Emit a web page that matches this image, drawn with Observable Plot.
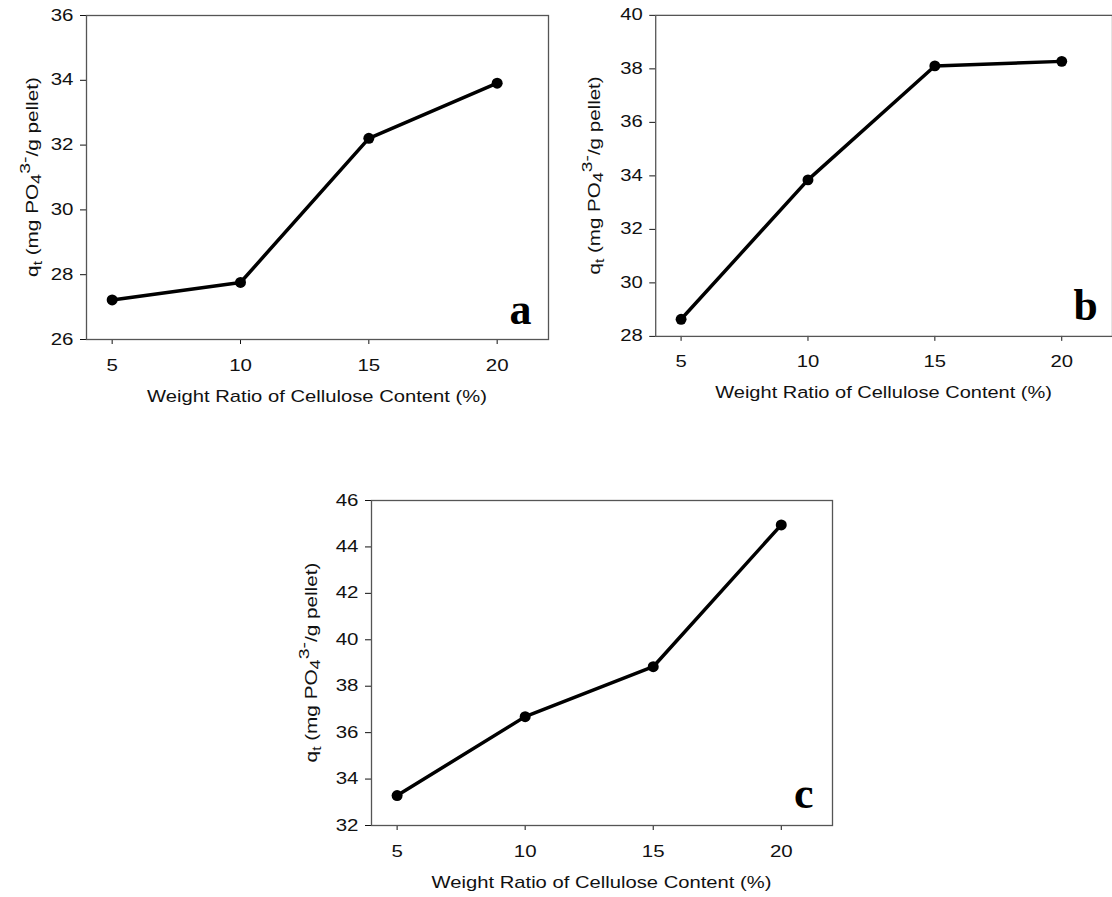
<!DOCTYPE html>
<html><head><meta charset="utf-8">
<script src="https://cdn.jsdelivr.net/npm/d3@7"></script>
<script src="https://cdn.jsdelivr.net/npm/@observablehq/plot@0.6"></script>
<style>
html,body{margin:0;padding:0;background:#fff;overflow:hidden;width:1112px;height:897px;}
.panel{position:absolute;}
</style></head><body>
<div id="pa" class="panel" style="left:0px;top:0px"></div>
<div id="pb" class="panel" style="left:570px;top:0px"></div>
<div id="pc" class="panel" style="left:285px;top:485px"></div>
<script>
// ---- data ----
const cellulose = [5, 10, 15, 20];
const qtA = [27.22, 27.76, 32.21, 33.91];
const qtB = [28.64, 33.85, 38.11, 38.28];
const qtC = [33.29, 36.69, 38.84, 44.95];
const xTicks = [5, 10, 15, 20];
const yTicksA = [26, 28, 30, 32, 34, 36];
const yTicksB = [28, 30, 32, 34, 36, 38, 40];
const yTicksC = [32, 34, 36, 38, 40, 42, 44, 46];
const panelLetters = ["a", "b", "c"];
const xTitle = "Weight Ratio of Cellulose Content (%)";

const SANS = "'Liberation Sans', Arial, sans-serif";

function stretch(el, s) {
  const x = parseFloat(el.getAttribute("x")) || 0;
  const t = el.getAttribute("transform") || "";
  el.setAttribute("transform", `${t} translate(${x},0) scale(${s},1) translate(${-x},0)`);
}

function makePanel(id, values, yTicks, letter, o) {
  const data = cellulose.map((x, i) => ({x, y: values[i]}));
  const fw = o.frameW, fh = o.frameH;
  const width = o.ml + fw + o.mr, height = o.mt + fh + o.mb;
  const svg = Plot.plot({
    width, height,
    marginLeft: o.ml, marginRight: o.mr, marginTop: o.mt, marginBottom: o.mb,
    style: {fontFamily: SANS, fontSize: "16px", background: "white", color: "#111", overflow: "visible"},
    x: {domain: [4, 22], ticks: xTicks, tickSize: 5, tickPadding: 15, label: null},
    y: {domain: [yTicks[0], yTicks[yTicks.length - 1]], ticks: yTicks, tickSize: 6, tickPadding: 7, label: null},
    marks: [
      Plot.frame({stroke: "#555", strokeWidth: 1.3}),
      Plot.line(data, {x: "x", y: "y", stroke: "black", strokeWidth: 3.5}),
      Plot.dot(data, {x: "x", y: "y", r: 5.5, fill: "black", stroke: "none"}),
      Plot.text([letter], {text: d => d, frameAnchor: "bottom-right", textAnchor: "end", lineAnchor: "bottom",
        dx: -o.letterDx, dy: -o.letterDy, fontSize: 44, fontWeight: "bold", fontFamily: "'Liberation Serif', 'Times New Roman', serif", fill: "black"})
    ]
  });
  document.getElementById(id).appendChild(svg);
  // stretch tick labels horizontally (reference text is wide)
  svg.querySelectorAll('g[aria-label="x-axis tick label"] text, g[aria-label="y-axis tick label"] text').forEach(t => stretch(t, 1.28));
  const NS = "http://www.w3.org/2000/svg";
  // x title
  const cx = o.ml + fw / 2, by = o.mt + fh + 63;
  const gx = document.createElementNS(NS, "g");
  gx.setAttribute("transform", `translate(${cx},${by})`);
  const tx = document.createElementNS(NS, "text");
  tx.setAttribute("text-anchor", "middle");
  tx.setAttribute("font-size", "16");
  tx.setAttribute("fill", "#111");
  tx.textContent = xTitle;
  gx.appendChild(tx);
  svg.appendChild(gx);
  const wx = tx.getBBox().width;
  gx.setAttribute("transform", `translate(${cx},${by}) scale(${340 / wx},1)`);
  // y title with sub/superscripts
  const ly = o.mt + fh / 2, lx = o.ml - o.yLabelOff;
  const gy = document.createElementNS(NS, "g");
  const ty = document.createElementNS(NS, "text");
  ty.setAttribute("text-anchor", "middle");
  ty.setAttribute("fill", "#111");
  ty.setAttribute("font-size", "16");
  const parts = [
    ["q", 16, 0], ["t", 12, 4], [" (mg PO", 16, -4], ["4", 14, 3], ["3-", 15, -11], ["/g pellet)", 16, 8]
  ];
  parts.forEach(([s, fs, dy]) => {
    const sp = document.createElementNS(NS, "tspan");
    sp.setAttribute("font-size", fs);
    if (dy) sp.setAttribute("dy", dy);
    sp.textContent = s;
    ty.appendChild(sp);
  });
  gy.appendChild(ty);
  svg.appendChild(gy);
  const wy = ty.getBBox().width;
  gy.setAttribute("transform", `translate(${lx},${ly}) rotate(-90) scale(${200 / wy},1)`);
}

makePanel("pa", qtA, yTicksA, panelLetters[0], {ml: 86, mr: 14, mt: 15, mb: 76, frameW: 462, frameH: 324, letterDx: 17, letterDy: 16, yLabelOff: 48});
makePanel("pb", qtB, yTicksB, panelLetters[1], {ml: 86, mr: 0, mt: 15, mb: 76, frameW: 461, frameH: 324, letterDx: 15, letterDy: 17, yLabelOff: 56});
makePanel("pc", qtC, yTicksC, panelLetters[2], {ml: 86, mr: 14, mt: 15, mb: 72, frameW: 461, frameH: 325, letterDx: 19, letterDy: 18, yLabelOff: 54});
</script>
</body></html>
